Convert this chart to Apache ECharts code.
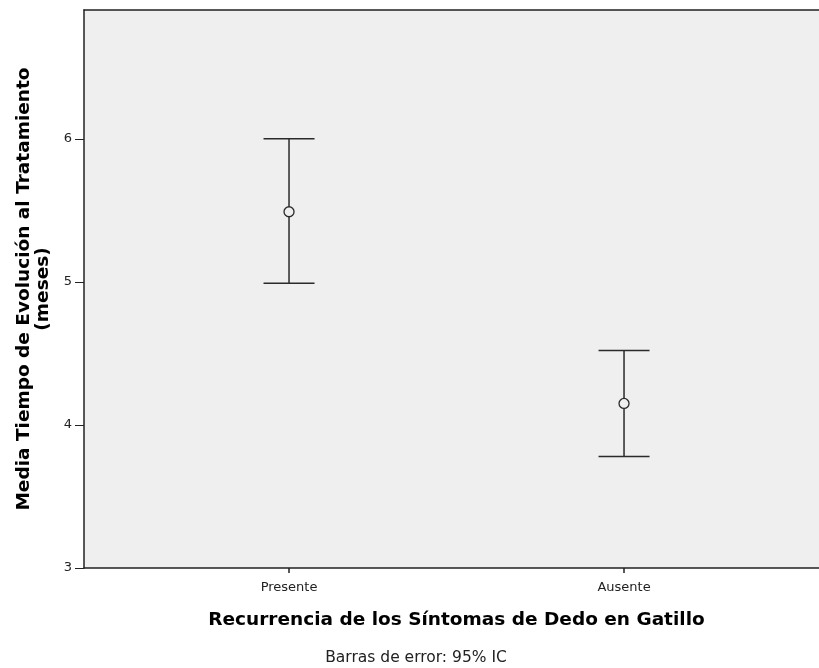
<!DOCTYPE html>
<html>
<head>
<meta charset="utf-8">
<script src="https://cdn.jsdelivr.net/npm/echarts@6/dist/echarts.min.js"></script>
<style>
  html, body { margin: 0; padding: 0; background: #fff; }
  #chart { width: 819px; height: 668px; }
</style>
</head>
<body>
<div id="chart"></div>
<script>
// Group labels and 95% CI summary per group
const categories = ['Presente', 'Ausente'];
const means = [5.49, 4.15];
const lowerCI = [4.99, 3.78];
const upperCI = [6.00, 4.52];
const yTicks = [3, 4, 5, 6];

const positions = categories.map((_, i) => i + 1);
const FONT = '"DejaVu Sans", Verdana, sans-serif';

const barData = categories.map((c, i) => [positions[i], lowerCI[i], upperCI[i], means[i]]);

const chart = echarts.init(document.getElementById('chart'), null, { renderer: 'canvas' });

chart.setOption({
  animation: false,
  backgroundColor: '#ffffff',
  grid: {
    left: 84, right: 0, top: 10, bottom: 100,
    containLabel: false,
    outerBoundsMode: 'none',
    show: true,
    backgroundColor: '#efefef',
    borderWidth: 0
  },
  xAxis: [{
    type: 'value',
    min: 0.388,
    max: 2.582,
    splitLine: { show: false },
    axisLine: { show: true, onZero: false, lineStyle: { color: '#222', width: 1.5 } },
    axisTick: { show: true, length: 5, customValues: positions, lineStyle: { color: '#222', width: 1.5 } },
    axisLabel: {
      customValues: positions,
      formatter: v => categories[Math.round(v) - 1] || '',
      color: '#222', fontFamily: FONT, fontSize: 13, margin: 13
    },
    name: 'Recurrencia de los Síntomas de Dedo en Gatillo',
    nameLocation: 'middle',
    nameGap: 43,
    nameTextStyle: { fontFamily: FONT, fontSize: 18.5, fontWeight: 'bold', color: '#000', padding: [0, 0, 0, 10] }
  }, {
    // top frame line of the plot area
    type: 'value',
    position: 'top',
    min: 0.388,
    max: 2.582,
    splitLine: { show: false },
    axisLine: { show: true, onZero: false, lineStyle: { color: '#222', width: 1.5 } },
    axisTick: { show: false },
    axisLabel: { show: false }
  }],
  yAxis: {
    type: 'value',
    min: 3,
    max: 6.9,
    interval: 1,
    splitLine: { show: false },
    axisLine: { show: true, lineStyle: { color: '#222', width: 1.5 } },
    axisTick: { show: true, length: 9, customValues: yTicks, lineStyle: { color: '#222', width: 1 } },
    axisLabel: { customValues: yTicks, color: '#222', fontFamily: FONT, fontSize: 13, margin: 12 },
    name: 'Media Tiempo de Evolución al Tratamiento\n(meses)',
    nameLocation: 'middle',
    nameGap: 30,
    nameTextStyle: { fontFamily: FONT, fontSize: 18.5, fontWeight: 'bold', color: '#000', lineHeight: 19, align: 'center' }
  },
  graphic: [{
    type: 'text',
    x: 416,
    y: 658,
    style: {
      text: 'Barras de error: 95% IC', font: '15.5px ' + FONT, fill: '#222',
      align: 'center', verticalAlign: 'middle'
    }
  }],
  series: [{
    type: 'custom',
    data: barData,
    renderItem: function (params, api) {
      const x = api.value(0);
      const lo = api.coord([x, api.value(1)]);
      const hi = api.coord([x, api.value(2)]);
      const mid = api.coord([x, api.value(3)]);
      const half = 25.5;
      const r = 5;
      const ls = { stroke: '#2a2a2a', lineWidth: 1.5 };
      return {
        type: 'group',
        children: [
          { type: 'line', shape: { x1: hi[0], y1: hi[1], x2: mid[0], y2: mid[1] - r }, style: ls },
          { type: 'line', shape: { x1: mid[0], y1: mid[1] + r, x2: lo[0], y2: lo[1] }, style: ls },
          { type: 'line', shape: { x1: hi[0] - half, y1: hi[1], x2: hi[0] + half, y2: hi[1] }, style: ls },
          { type: 'line', shape: { x1: lo[0] - half, y1: lo[1], x2: lo[0] + half, y2: lo[1] }, style: ls },
          { type: 'circle', shape: { cx: mid[0], cy: mid[1], r: r }, style: { fill: 'none', stroke: '#2a2a2a', lineWidth: 1.3 } }
        ]
      };
    }
  }]
});
</script>
</body>
</html>
